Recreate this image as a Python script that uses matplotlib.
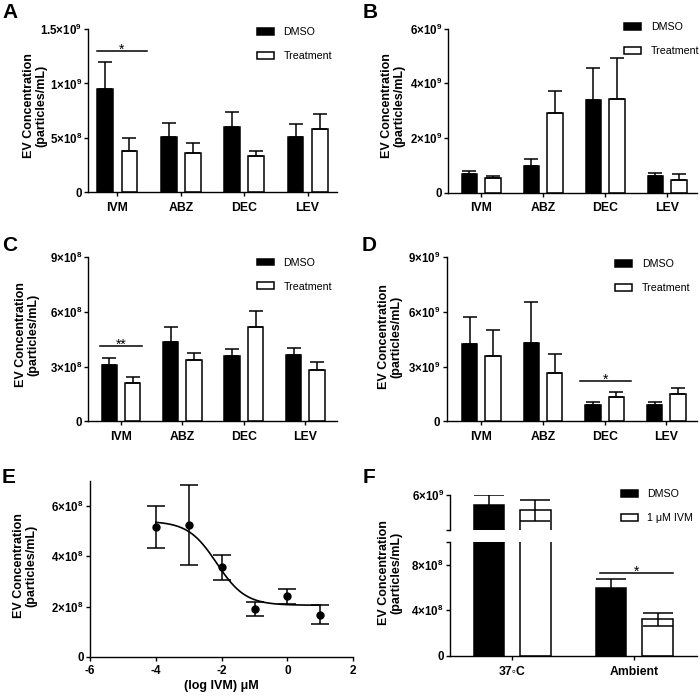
import numpy as np
import matplotlib
matplotlib.use('Agg')
import matplotlib.pyplot as plt
from matplotlib.patches import Patch

plt.rcParams['font.family'] = ['Liberation Sans', 'DejaVu Sans']
plt.rcParams['mathtext.fontset'] = 'custom'
plt.rcParams['mathtext.rm'] = 'Liberation Sans'
plt.rcParams['mathtext.bf'] = 'Liberation Sans:bold'
plt.rcParams['axes.linewidth'] = 1.0

W, H = 700, 699

# ---- data ----
groups = ['IVM', 'ABZ', 'DEC', 'LEV']

a_dmso = [0.946e9, 0.505e9, 0.603e9, 0.511e9]
a_dmso_err = [0.25e9, 0.135e9, 0.132e9, 0.113e9]
a_trt = [0.383e9, 0.358e9, 0.33e9, 0.579e9]
a_trt_err = [0.113e9, 0.098e9, 0.053e9, 0.137e9]

b_dmso = [0.68e9, 0.99e9, 3.38e9, 0.60e9]
b_dmso_err = [0.12e9, 0.23e9, 1.18e9, 0.12e9]
b_trt = [0.52e9, 2.93e9, 3.41e9, 0.45e9]
b_trt_err = [0.10e9, 0.80e9, 1.53e9, 0.22e9]

c_dmso = [3.10e8, 4.34e8, 3.59e8, 3.63e8]
c_dmso_err = [0.37e8, 0.84e8, 0.35e8, 0.37e8]
c_trt = [2.12e8, 3.36e8, 5.18e8, 2.83e8]
c_trt_err = [0.31e8, 0.40e8, 0.84e8, 0.44e8]

d_dmso = [4.23e9, 4.29e9, 0.91e9, 0.91e9]
d_dmso_err = [1.46e9, 2.22e9, 0.13e9, 0.13e9]
d_trt = [3.59e9, 2.65e9, 1.31e9, 1.48e9]
d_trt_err = [1.39e9, 1.05e9, 0.30e9, 0.36e9]

e_logdose = [-4, -3, -2, -1, 0, 1]
e_mean = [5.16e8, 5.25e8, 3.56e8, 1.89e8, 2.40e8, 1.67e8]
e_sem = [0.83e8, 1.58e8, 0.49e8, 0.27e8, 0.31e8, 0.37e8]
# fitted dose-response parameters
fit_top, fit_bottom, fit_logic50, fit_hill = 5.4e8, 2.05e8, -2.15, 1.0

f_conds = ['37\u25e6C', 'Ambient']
f_dmso = [5.38e9, 5.99e8]
f_dmso_err = [0.62e9, 0.74e8]
f_ivm = [5.10e9, 3.23e8]
f_ivm_err = [0.60e9, 0.56e8]

ylab = 'EV Concentration\n(particles/mL)'
BW, OFF = 0.25, 0.19
YT_SIZE = 8.3

fig = plt.figure(figsize=(7, 6.99), dpi=100)


def sci(m, e):
    return r'$\mathbf{%s{\times}10^{%d}}$' % (m, e)


def px_axes(l, t, r, b):
    return fig.add_axes([l / W, 1 - b / H, (r - l) / W, (b - t) / H])


def ylabel(x_px, y_px):
    fig.text(x_px / W, 1 - y_px / H, ylab, rotation=90, ha='right', va='center',
             fontsize=9, fontweight='bold', linespacing=1.0, multialignment='center')


def style(ax):
    for s in ['top', 'right']:
        ax.spines[s].set_visible(False)
    ax.tick_params(direction='out', length=3, width=1.0, pad=1.5)
    for t in ax.get_yticklabels():
        t.set_fontweight('bold')
        t.set_fontsize(YT_SIZE)


def legend(ax, x_px, y_px, labels):
    h = [Patch(facecolor='black', edgecolor='black', linewidth=1.1),
         Patch(facecolor='white', edgecolor='black', linewidth=1.1)]
    ax.legend(h, labels, loc='upper left', bbox_to_anchor=(x_px / W, 1 - (y_px - 6) / H),
              bbox_transform=fig.transFigure, frameon=False, borderpad=0, borderaxespad=0,
              handlelength=1.6, handleheight=0.6, handletextpad=0.9, labelspacing=1.3,
              fontsize=7.7)


def sig(ax, x0, x1, y, txt):
    ax.plot([x0, x1], [y, y], color='black', lw=1.1)
    ax.annotate(txt, ((x0 + x1) / 2, y), xytext=(0, -2.5), textcoords='offset points',
                ha='center', va='baseline', fontsize=10)


def bar_panel(rect, dmso, dmso_err, trt, trt_err, ymax, yt, ytl, xlim, leg):
    l, t, r, b = rect
    ax = px_axes(l, t, r, b)
    x = np.arange(len(groups))
    z = np.zeros(len(groups))
    ax.bar(x - OFF, dmso, BW, color='black', edgecolor='black', linewidth=1.1)
    ax.bar(x + OFF, trt, BW, color='white', edgecolor='black', linewidth=1.1)
    ax.errorbar(x - OFF, dmso, yerr=[z, dmso_err], fmt='none', ecolor='black',
                elinewidth=1.1, capsize=5.3, capthick=1.1)
    ax.errorbar(x + OFF, trt, yerr=[z, trt_err], fmt='none', ecolor='black',
                elinewidth=1.1, capsize=5.3, capthick=1.1)
    ax.set_xlim(*xlim)
    ax.set_ylim(0, ymax)
    ax.set_yticks(yt)
    ax.set_yticklabels(ytl)
    ax.set_xticks(x)
    ax.set_xticklabels(groups, fontsize=8.8, fontweight='bold')
    style(ax)
    ax.tick_params(axis='x', pad=4)
    legend(ax, leg[0], leg[1], ['DMSO', 'Treatment'])
    return ax


# A
axA = bar_panel((88.3, 29, 336.7, 192.3), a_dmso, a_dmso_err, a_trt, a_trt_err, 1.5e9,
                [0, 0.5e9, 1e9, 1.5e9], ['0', sci('5', 8), sci('1', 9), sci('1.5', 9)],
                (-0.46, 3.46), (256.7, 33.3))
sig(axA, -0.32, 0.46, 1.30e9, '*')
ylabel(47, 105.7)

# B
axB = bar_panel((448.3, 28.7, 697, 192.7), b_dmso, b_dmso_err, b_trt, b_trt_err, 6e9,
                [0, 2e9, 4e9, 6e9], ['0', sci('2', 9), sci('4', 9), sci('6', 9)],
                (-0.53, 3.48), (624, 28.3))
ylabel(405, 105.7)

# C
axC = bar_panel((88.3, 257, 336.7, 421.3), c_dmso, c_dmso_err, c_trt, c_trt_err, 9e8,
                [0, 3e8, 6e8, 9e8], ['0', sci('3', 8), sci('6', 8), sci('9', 8)],
                (-0.53, 3.51), (256.7, 263.7))
sig(axC, -0.34, 0.35, 4.14e8, '**')
ylabel(39, 335)

# D
axD = bar_panel((446.7, 257, 696.7, 421.3), d_dmso, d_dmso_err, d_trt, d_trt_err, 9e9,
                [0, 3e9, 6e9, 9e9], ['0', sci('3', 9), sci('6', 9), sci('9', 9)],
                (-0.56, 3.49), (615, 265.3))
sig(axD, 1.60, 2.43, 2.23e9, '*')
ylabel(402, 337)

# E
axE = px_axes(90, 481, 353.3, 656.7)
xf = np.linspace(-4, 1, 200)
yf = fit_bottom + (fit_top - fit_bottom) / (1 + 10 ** ((xf - fit_logic50) * fit_hill))
axE.plot(xf, yf, color='black', lw=1.2)
axE.errorbar(e_logdose, e_mean, yerr=e_sem, fmt='o', color='black', ms=5, elinewidth=1.1,
             capsize=6.7, capthick=1.1)
axE.set_xlim(-6, 2)
axE.set_ylim(0, 7e8)
axE.set_xticks([-6, -4, -2, 0, 2])
axE.set_xticklabels(['-6', '-4', '-2', '0', '2'], fontsize=8.5, fontweight='bold')
axE.set_yticks([0, 2e8, 4e8, 6e8])
axE.set_yticklabels(['0', sci('2', 8), sci('4', 8), sci('6', 8)])
style(axE)
axE.tick_params(axis='x', pad=3)
axE.set_xlabel('(log IVM) \u03bcM', fontsize=9, fontweight='bold', labelpad=2)
ylabel(37, 566)

# F (broken y axis)
axFt = px_axes(450, 494.7, 696.7, 529.5)
axFb = px_axes(450, 542, 696.7, 656)
xc = np.arange(len(f_conds))
for ax in (axFt, axFb):
    ax.bar(xc - OFF, f_dmso, BW, color='black', edgecolor='black', linewidth=1.1)
    ax.bar(xc + OFF, f_ivm, BW, color='white', edgecolor='black', linewidth=1.1)
    ax.errorbar(xc - OFF, f_dmso, yerr=f_dmso_err, fmt='none', ecolor='black',
                elinewidth=1.1, capsize=11, capthick=1.1)
    ax.errorbar(xc + OFF, f_ivm, yerr=f_ivm_err, fmt='none', ecolor='black',
                elinewidth=1.1, capsize=11, capthick=1.1)
    ax.set_xlim(-0.51, 1.51)
    for s in ['top', 'right']:
        ax.spines[s].set_visible(False)
    ax.tick_params(direction='out', length=3, width=1.0, pad=1.5)

axFt.set_ylim(4e9, 6e9)
axFt.spines['bottom'].set_visible(False)
axFt.set_xticks([])
axFt.set_yticks([4e9, 6e9])
axFt.set_yticklabels(['', sci('6', 9)], fontsize=YT_SIZE)

axFb.set_ylim(0, 1e9)
axFb.set_yticks([0, 4e8, 8e8, 1e9])
axFb.set_yticklabels(['0', sci('4', 8), sci('8', 8), ''], fontsize=YT_SIZE)
for t in axFb.get_yticklabels():
    t.set_fontweight('bold')
axFb.set_xticks(xc)
axFb.set_xticklabels(f_conds, fontsize=8.8, fontweight='bold')
axFb.tick_params(axis='x', pad=4)
sig(axFb, 0.72, 1.32, 7.32e8, '*')
legend(axFt, 620.7, 495.3, ['DMSO', '1 \u03bcM IVM'])
ylabel(402, 572.6)

# panel letters
for letter, x, y in [('A', 2.7, 18.3), ('B', 362.7, 18.3), ('C', 1.7, 251),
                     ('D', 362, 251), ('E', 1.7, 483.3), ('F', 363, 483)]:
    fig.text(x / W, 1 - y / H, letter, fontsize=15, fontweight='bold', ha='left', va='baseline')

fig.savefig('out.png', dpi=100)
